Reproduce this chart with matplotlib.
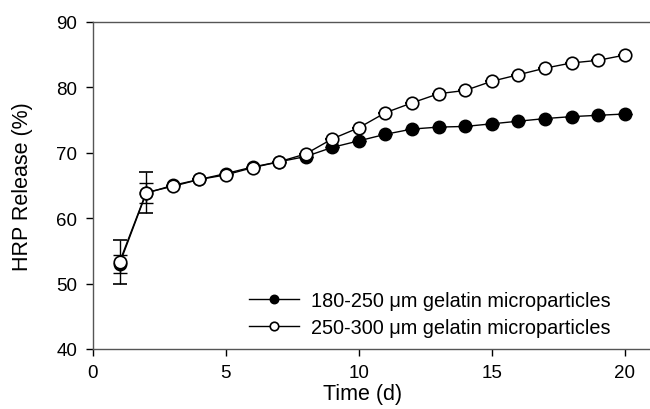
import matplotlib
matplotlib.use("Agg")
import matplotlib.pyplot as plt

plt.rcParams['font.family'] = ['Liberation Sans', 'DejaVu Sans']

days = list(range(1, 21))
small_vals = [53.0, 63.8, 65.0, 65.9, 66.8, 67.8, 68.6, 69.4, 70.8, 71.8,
              72.8, 73.6, 73.9, 74.0, 74.4, 74.8, 75.2, 75.5, 75.7, 75.9]
small_err = [1.4, 1.5, 0, 0, 0, 0, 0, 0, 0, 0,
             0, 0, 0, 0, 0, 0, 0, 0, 0, 0]
large_vals = [53.3, 63.9, 64.85, 65.9, 66.6, 67.7, 68.6, 69.8, 72.1, 73.8,
              76.1, 77.6, 79.0, 79.5, 80.9, 81.9, 82.9, 83.7, 84.1, 84.9]
large_err = [3.4, 3.1, 0, 0, 0, 0, 0, 0, 0, 0,
             0, 0, 0, 0, 0, 0, 0, 0, 0, 0]
labels = ["180-250 \u03bcm gelatin microparticles",
          "250-300 \u03bcm gelatin microparticles"]

fig = plt.figure(figsize=(6.5, 4.1), dpi=100)
ax = fig.add_axes([93/650, 1-350/410, 1-93/650 + 0.002, (350-22.7)/410])

ax.errorbar(days, small_vals, yerr=small_err, color='black', lw=1.0,
            marker='o', ms=9, mfc='black', mec='black', mew=1.0,
            capsize=5, elinewidth=1.0, capthick=1.0, label=labels[0], zorder=3)
ax.errorbar(days, large_vals, yerr=large_err, color='black', lw=1.0,
            marker='o', ms=9, mfc='white', mec='black', mew=1.2,
            capsize=5, elinewidth=1.0, capthick=1.0, label=labels[1], zorder=4)

ax.set_xlim(0, 21.0)
ax.set_ylim(40, 90)
ax.set_xticks([0, 5, 10, 15, 20])
ax.set_yticks([40, 50, 60, 70, 80, 90])
ax.tick_params(direction='out', length=5, width=1, labelsize=13.5)
ax.tick_params(axis='y', pad=6.5)
ax.tick_params(axis='x', pad=5.5)
ax.spines['right'].set_visible(False)
for s in ['left', 'bottom', 'top']:
    ax.spines[s].set_linewidth(1.0)
    ax.spines[s].set_color('#555555')

ax.set_xlabel("Time (d)", fontsize=15.5)
ax.set_ylabel("HRP Release (%)", fontsize=15.5)
ax.xaxis.set_label_coords((362-93)/(650-93), -0.104)
ax.yaxis.set_label_coords(-0.108, 0.5)

h, l = ax.get_legend_handles_labels()
h = [x[0] for x in h]
leg = ax.legend(h, l, loc='upper left', bbox_to_anchor=(249/650, 1-292/410),
                bbox_transform=fig.transFigure, frameon=False, fontsize=14.3,
                markerscale=0.68, handlelength=2.5, handletextpad=0.62,
                labelspacing=0.42, borderpad=0, borderaxespad=0)

fig.savefig("out.png", dpi=100)
